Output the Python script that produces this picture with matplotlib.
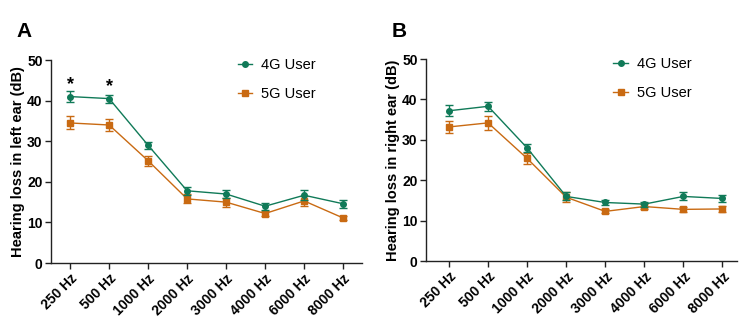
import matplotlib

matplotlib.use("Agg")
import matplotlib.pyplot as plt
from matplotlib.lines import Line2D

freqs = ["250 Hz", "500 Hz", "1000 Hz", "2000 Hz", "3000 Hz", "4000 Hz", "6000 Hz", "8000 Hz"]

left_4g = [41.0, 40.5, 29.0, 17.8, 17.0, 14.0, 16.7, 14.6]
left_4g_err = [1.3, 1.0, 0.8, 1.0, 0.9, 0.9, 1.2, 1.0]
left_5g = [34.5, 34.0, 25.2, 15.8, 15.0, 12.2, 15.3, 11.1]
left_5g_err = [1.6, 1.5, 1.2, 1.1, 1.1, 0.7, 1.2, 0.5]

right_4g = [37.2, 38.3, 28.0, 16.0, 14.5, 14.1, 16.0, 15.5]
right_4g_err = [1.4, 1.1, 0.9, 1.0, 0.7, 0.6, 1.0, 0.9]
right_5g = [33.2, 34.2, 25.4, 15.8, 12.3, 13.5, 12.8, 12.9]
right_5g_err = [1.5, 1.7, 1.4, 1.3, 0.5, 0.6, 0.7, 0.7]

star_idx = [0, 1]
star_y = [44.0, 43.4]

GREEN = "#107a58"
ORANGE = "#c96a12"

plt.rcParams["font.family"] = ["Liberation Sans", "DejaVu Sans"]

fig = plt.figure(figsize=(7.5, 3.28), dpi=100)
ax_a = fig.add_axes([0.068, 0.198, 0.415, 0.619])
ax_b = fig.add_axes([0.568, 0.204, 0.415, 0.616])


def draw_panel(ax, v4, e4, v5, e5, ylabel, xlim, leg_x):
    x = list(range(len(freqs)))
    ax.errorbar(x, v4, yerr=e4, color=GREEN, marker="o", markersize=4, linewidth=1.0,
                elinewidth=1.0, capsize=3, capthick=1.0, ecolor=GREEN, zorder=3)
    ax.errorbar(x, v5, yerr=e5, color=ORANGE, marker="s", markersize=4, linewidth=1.0,
                elinewidth=1.0, capsize=3, capthick=1.0, ecolor=ORANGE, zorder=2)
    ax.set_xlim(*xlim)
    ax.set_ylim(0, 50)
    ax.set_yticks([0, 10, 20, 30, 40, 50])
    ax.set_xticks(x)
    ax.set_xticklabels(freqs, rotation=45, ha="right", rotation_mode="anchor",
                       fontsize=10, fontweight="bold")
    for lab in ax.get_yticklabels():
        lab.set_fontsize(10)
        lab.set_fontweight("bold")
    ax.set_ylabel(ylabel, fontsize=10.5, fontweight="bold")
    ax.yaxis.set_label_coords(-0.082, 0.5)
    ax.spines["top"].set_visible(False)
    ax.spines["right"].set_visible(False)
    for sp in ("left", "bottom"):
        ax.spines[sp].set_linewidth(1.0)
        ax.spines[sp].set_color("#222222")
    ax.tick_params(axis="both", length=4, width=1.0, color="#222222", pad=2)
    handles = [
        Line2D([0], [0], color=GREEN, marker="o", markersize=4, linewidth=1.0),
        Line2D([0], [0], color=ORANGE, marker="s", markersize=4, linewidth=1.0),
    ]
    ax.legend(handles, ["4G User", "5G User"], loc="upper left", bbox_to_anchor=(leg_x, 1.075),
              frameon=False, fontsize=10.5, handlelength=1.0, labelspacing=1.05, handletextpad=0.6)


draw_panel(ax_a, left_4g, left_4g_err, left_5g, left_5g_err,
           "Hearing loss in left ear (dB)", (-0.49, 7.49), 0.558)
draw_panel(ax_b, right_4g, right_4g_err, right_5g, right_5g_err,
           "Hearing loss in right ear (dB)", (-0.59, 7.38), 0.56)

for i, y in zip(star_idx, star_y):
    ax_a.text(i, y, "*", ha="center", va="center", fontsize=13, fontweight="bold")

fig.text(0.022, 0.905, "A", fontsize=15, fontweight="bold", va="center")
fig.text(0.522, 0.905, "B", fontsize=15, fontweight="bold", va="center")

fig.savefig("out.png", dpi=100)
